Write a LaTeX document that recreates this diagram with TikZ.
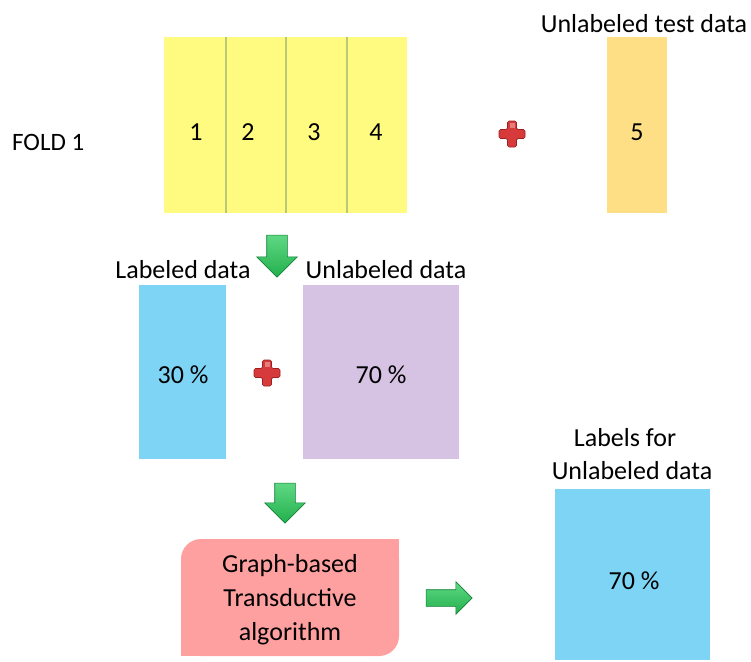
\documentclass[tikz,border=0pt]{standalone}
\usepackage{fontspec}
\setmainfont{Carlito}
\usetikzlibrary{shapes.arrows}
\definecolor{foldyellow}{HTML}{FFFB80}
\definecolor{testorange}{HTML}{FFDF85}
\definecolor{labblue}{HTML}{7DD4F5}
\definecolor{unlabpurple}{HTML}{D6C2E3}
\definecolor{algpink}{HTML}{FFA0A0}
\definecolor{divline}{HTML}{B9C97A}
\definecolor{arrowgreen}{HTML}{22B04C}
\definecolor{arrowlight}{HTML}{5FD884}
\definecolor{arrowdark}{HTML}{0F7F33}
\definecolor{plusred}{HTML}{D63A3A}
\definecolor{plusdark}{HTML}{9E1F1F}
\tikzset{
  x=1pt, y=-1pt,
  block/.style={draw=none, inner sep=0pt, anchor=north west},
  caption/.style={font=\fontsize{26}{30}\selectfont, anchor=base, inner sep=0pt},
  num/.style={font=\fontsize{26}{30}\selectfont, anchor=base, inner sep=0pt},
  greenarrow/.style={single arrow, draw=arrowdark, line width=0.6pt,
    top color=arrowlight, bottom color=arrowgreen, shading angle=0,
    inner sep=10pt, single arrow head extend=10pt,
    single arrow head indent=0pt},
  pics/plussign/.style={code={
    \fill[plusred, draw=plusdark, line width=0.6pt, rounded corners=1.5pt]
      (-4.5,-13) -- (4.5,-13) -- (4.5,-4.5) -- (13,-4.5) -- (13,4.5)
      -- (4.5,4.5) -- (4.5,13) -- (-4.5,13) -- (-4.5,4.5) -- (-13,4.5)
      -- (-13,-4.5) -- (-4.5,-4.5) -- cycle;
    \fill[white, opacity=0.35] (-2.5,-11) rectangle (2.5,-6);
  }}
}
\begin{document}
\begin{tikzpicture}
\useasboundingbox (0,0) rectangle (751,661);

% fold row: four training parts and the held-out test part
\node[block, fill=foldyellow, minimum width=243pt, minimum height=176pt] (fold) at (164,37) {};
\foreach \xx/\nm in {226/da, 286/db, 347/dc} {
  \coordinate (\nm top) at (\xx,37);
  \coordinate (\nm bot) at (\xx,213);
  \draw[divline, line width=1.5pt] (\nm top) -- (\nm bot);
}
\node[num] (n1) at (196,140) {1};
\node[num] (n2) at (248,140) {2};
\node[num] (n3) at (314,140) {3};
\node[num] (n4) at (376,140) {4};
\node[caption, font=\fontsize{25}{30}\selectfont, anchor=base west] (foldlbl) at (12,150) {FOLD 1};

\pic at (512,134) {plussign};

\node[block, fill=testorange, minimum width=60pt, minimum height=176pt] (test) at (607,37) {};
\node[num] (n5) at (637,140) {5};
\node[caption] (testlbl) at (644,33) {Unlabeled test data};

% split into labeled and unlabeled parts
\node[greenarrow, shape border rotate=270, minimum height=42pt] (down1) at (277,251) {};
\node[caption] (lablbl) at (183,278) {Labeled data};
\node[caption] (unlablbl) at (386,278) {Unlabeled data};

\node[block, fill=labblue, minimum width=87pt, minimum height=174pt] (lab) at (139,285) {};
\node[num] (p30) at (183,383) {30 \%};
\pic at (267,373) {plussign};
\node[block, fill=unlabpurple, minimum width=156pt, minimum height=174pt] (unlab) at (303,285) {};
\node[num] (p70a) at (381,383) {70 \%};

% transductive step and its output
\node[greenarrow, shape border rotate=270, minimum height=40pt] (down2) at (285,498) {};

\node[fill=algpink, rounded corners=20pt, minimum width=218pt, minimum height=117pt,
      inner sep=0pt] (alg) at (290,597.5) {};
\fill[algpink] (alg.north east) rectangle ++(-22,22);
\fill[algpink] (alg.south west) rectangle ++(22,-22);
\node[align=center, inner sep=0pt, font=\fontsize{26}{34}\selectfont] (algtext) at (290,600)
  {Graph-based\\Transductive\\algorithm};

\node[greenarrow, minimum height=46pt, inner sep=8pt, single arrow head extend=8pt] (right1) at (445,598) {};

\node[caption] (outlbl1) at (625,446) {Labels for};
\node[caption] (outlbl2) at (632,479) {Unlabeled data};
\node[block, fill=labblue, minimum width=155pt, minimum height=171pt] (out) at (555,489) {};
\node[num] (p70b) at (634,589) {70 \%};
\end{tikzpicture}
\end{document}
